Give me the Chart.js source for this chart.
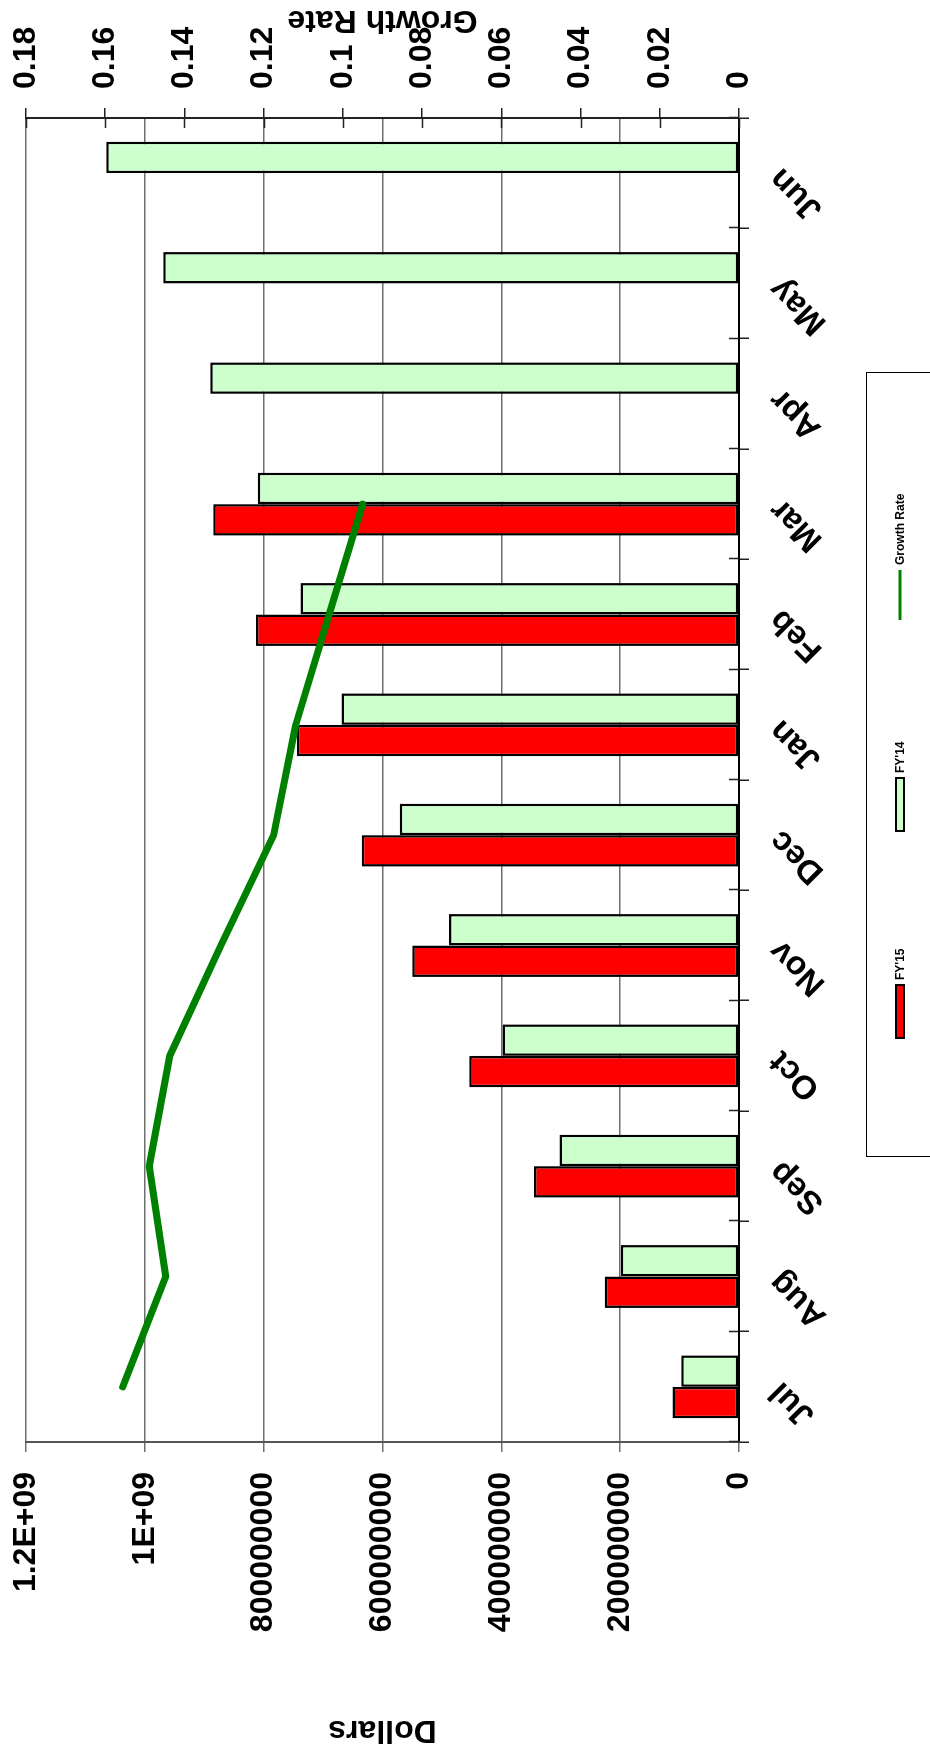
<!DOCTYPE html>
<html>
<head>
<meta charset="utf-8">
<title>FY'15 vs FY'14</title>
<script src="https://cdn.jsdelivr.net/npm/chart.js@4.4.1/dist/chart.umd.min.js"></script>
<style>
  html, body { margin: 0; padding: 0; background: #fff; }
  body { width: 930px; height: 1750px; overflow: hidden; position: relative; }
  /* the chart is drawn landscape and turned a quarter to the left */
  #wrap {
    position: absolute; left: 0; top: 0;
    width: 1750px; height: 930px;
    transform-origin: 0 0;
    transform: translate(0, 1750px) rotate(-90deg);
  }
</style>
</head>
<body>
<div id="wrap"><canvas id="chart" width="1750" height="930"></canvas></div>
<script>
const months = ["Jul", "Aug", "Sep", "Oct", "Nov", "Dec", "Jan", "Feb", "Mar", "Apr", "May", "Jun"];
const fy15 = [112000000, 226000000, 345000000, 454000000, 550000000, 635000000, 744000000, 813000000, 885000000, null, null, null];
const fy14 = [97000000, 199000000, 302000000, 398000000, 488000000, 571000000, 669000000, 738000000, 810000000, 890000000, 969000000, 1065000000];
const growthRate = [0.1556, 0.1447, 0.1489, 0.1437, 0.1308, 0.1175, 0.1119, 0.1035, 0.095, null, null, null];
const dollarTicks = ["0", "200000000", "400000000", "600000000", "800000000", "1E+09", "1.2E+09"];
const growthTicks = ["0", "0.02", "0.04", "0.06", "0.08", "0.1", "0.12", "0.14", "0.16", "0.18"];
const growthTitle = "Growth Rate";

const FONT = "'Liberation Sans', Arial, sans-serif";
Chart.defaults.font.family = FONT;
Chart.defaults.font.weight = "bold";
Chart.defaults.font.size = 32;
Chart.defaults.color = "#000";

// right axis title (reads like the left one), inner tick marks and the boxed legend
const extras = {
  id: "extras",
  afterDraw(chart) {
    const ctx = chart.ctx;
    const area = chart.chartArea;
    const x = chart.scales.x;
    const y1 = chart.scales.y1;

    ctx.save();
    ctx.strokeStyle = "#222";
    ctx.lineWidth = 1.5;
    ctx.beginPath();
    for (let i = 0; i <= months.length; i++) {
      const px = Math.round(x.left + (i * x.width) / months.length) + 0.5;
      ctx.moveTo(px, area.bottom - 10);
      ctx.lineTo(px, area.bottom);
    }
    y1.ticks.forEach((t) => {
      const py = Math.round(y1.getPixelForValue(t.value)) + 0.5;
      ctx.moveTo(area.right - 10, py);
      ctx.lineTo(area.right, py);
    });
    ctx.stroke();
    ctx.restore();

    ctx.save();
    ctx.font = "bold 32px " + FONT;
    ctx.fillStyle = "#000";
    ctx.textAlign = "center";
    ctx.textBaseline = "middle";
    ctx.translate(1730, (area.top + area.bottom) / 2);
    ctx.rotate(-Math.PI / 2);
    ctx.fillText(growthTitle, 0, 0);
    ctx.restore();

    // legend
    ctx.save();
    ctx.strokeStyle = "#000";
    ctx.lineWidth = 1;
    ctx.strokeRect(593.5, 866.5, 784, 80);
    const itemX = [712, 919, 1130];
    const cy = 900;
    ctx.font = "bold 12px " + FONT;
    ctx.textBaseline = "middle";
    ctx.textAlign = "left";
    chart.data.datasets.forEach((ds, i) => {
      const lx = itemX[i];
      if (ds.type === "line") {
        ctx.strokeStyle = ds.borderColor;
        ctx.lineWidth = 3;
        ctx.beginPath();
        ctx.moveTo(lx, cy);
        ctx.lineTo(lx + 50, cy);
        ctx.stroke();
        ctx.fillStyle = "#000";
        ctx.fillText(ds.label, lx + 55, cy + 1);
      } else {
        ctx.fillStyle = ds.backgroundColor;
        ctx.fillRect(lx, cy - 4, 53, 8);
        ctx.strokeStyle = "#000";
        ctx.lineWidth = 2;
        ctx.strokeRect(lx, cy - 4, 53, 8);
        ctx.fillStyle = "#000";
        ctx.fillText(ds.label, lx + 58, cy + 1);
      }
    });
    ctx.restore();
  }
};

// fixed axis sizes so the plot sits where the reference has it
const noPad = (s) => { s.paddingTop = 0; s.paddingBottom = 0; };

new Chart(document.getElementById("chart"), {
  type: "bar",
  data: {
    labels: months,
    datasets: [
      {
        label: "FY'15",
        data: fy15,
        backgroundColor: "#ff0000",
        borderColor: "#000",
        borderWidth: 2.5,
        borderSkipped: false,
        categoryPercentage: 0.57,
        barPercentage: 1,
        yAxisID: "y",
        order: 1
      },
      {
        label: "FY'14",
        data: fy14,
        backgroundColor: "#ccffcc",
        borderColor: "#000",
        borderWidth: 2.5,
        borderSkipped: false,
        categoryPercentage: 0.57,
        barPercentage: 1,
        yAxisID: "y",
        order: 1
      },
      {
        type: "line",
        label: "Growth Rate",
        data: growthRate,
        yAxisID: "y1",
        borderColor: "#008000",
        borderWidth: 7,
        borderCapStyle: "round",
        borderJoinStyle: "round",
        pointRadius: 0,
        tension: 0,
        fill: false,
        order: 0
      }
    ]
  },
  options: {
    responsive: false,
    animation: false,
    devicePixelRatio: 1,
    layout: { padding: { top: 26, left: 0, right: 0, bottom: 0 } },
    plugins: {
      legend: { display: false },
      tooltip: { enabled: false }
    },
    scales: {
      x: {
        grid: { offset: true, drawOnChartArea: false, tickLength: 10, color: "#222", lineWidth: 1.5 },
        border: { color: "#000", width: 2 },
        ticks: {
          autoSkip: false,
          minRotation: 45,
          maxRotation: 45,
          padding: 15,
          font: { size: 33, weight: "bold", lineHeight: 1 }
        },
        afterFit: (s) => { s.height = 191; }
      },
      y: {
        position: "left",
        min: 0,
        max: 1200000000,
        ticks: {
          stepSize: 200000000,
          padding: 20,
          callback: (v, i) => dollarTicks[i] ?? v
        },
        grid: { color: "#6f6f6f", lineWidth: 1.5, tickLength: 10 },
        border: { color: "#555", width: 2 },
        title: { display: true, text: "Dollars", padding: { top: 1, bottom: 0 } },
        afterFit: (s) => { s.width = 308; noPad(s); }
      },
      y1: {
        position: "right",
        min: 0,
        max: 0.18,
        ticks: {
          stepSize: 0.02,
          padding: 19,
          callback: (v, i) => growthTicks[i] ?? v
        },
        grid: { drawOnChartArea: false, tickLength: 10, color: "#222", lineWidth: 1.5 },
        border: { color: "#222", width: 2 },
        afterFit: (s) => { s.width = 118; noPad(s); }
      }
    }
  },
  plugins: [extras]
});
</script>
</body>
</html>
